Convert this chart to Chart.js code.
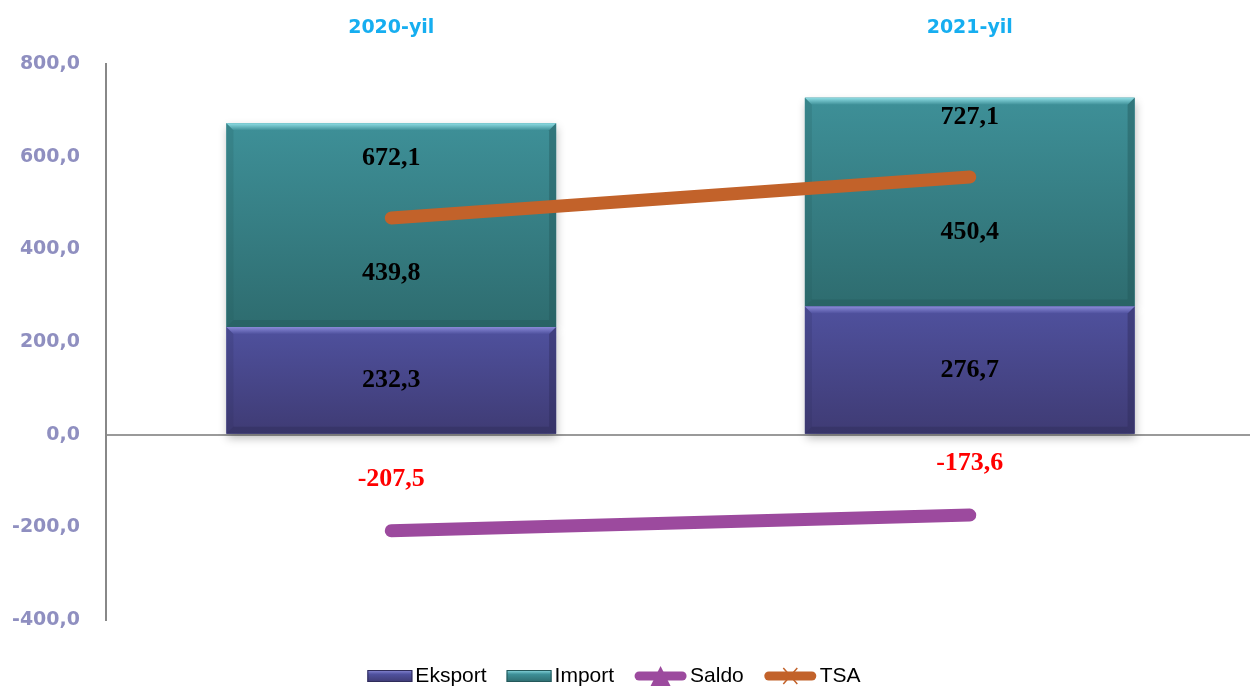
<!DOCTYPE html>
<html lang="uz">
<head>
    <meta charset="UTF-8">
    <title>Eksport, Import, Saldo, TSA</title>
    <style>
        body { margin: 0; background: #fff; }
        #wrap { width: 1250px; height: 686px; position: relative; }
    </style>
</head>
<body>
<div id="wrap"><canvas id="tradeChart"></canvas></div>

<script src="https://cdn.jsdelivr.net/npm/chart.js"></script>
<script>
    // Ma'lumotlar
    const categories = ['2020-yil', '2021-yil'];
    const eksport = [232.3, 276.7];
    const importQ = [439.8, 450.4];
    const saldo = [-207.5, -173.6];
    const tsa = [672.1, 727.1];
    const yTicks = [-400, -200, 0, 200, 400, 600, 800];

    const fmt = v => v.toFixed(1).replace('.', ',');

    const colors = {
        eksport: { top: '#8a8ad8', mid: '#4f519e', low: '#3f3b74', edge: '#2f2c5a' },
        import: { top: '#8fdde4', mid: '#3e9098', low: '#2e6c6f', edge: '#24585a' },
        saldo: '#9c4a9e',
        tsa: '#c2622a'
    };

    // x o'qi o'ng chetdan biroz chiqib turadi (asl rasmdagidek)
    const widenX = {
        id: 'widenX',
        afterLayout(chart) {
            const x = chart.scales.x;
            x.left -= 4;
            x.right += 9;
            x.width += 13;
            x.configure();
        }
    };

    // bar shadow + bevel look
    const barStyle = {
        id: 'barStyle',
        beforeDatasetsDraw(chart) {
            const c = chart.ctx;
            chart.data.datasets.forEach((ds, i) => {
                const meta = chart.getDatasetMeta(i);
                if (meta.type !== 'bar') return;
                meta.data.forEach(el => {
                    const top = Math.min(el.y, el.base), h = Math.abs(el.base - el.y);
                    c.save();
                    c.shadowColor = 'rgba(0,0,0,0.28)';
                    c.shadowBlur = 9;
                    c.shadowOffsetX = 1;
                    c.shadowOffsetY = 4;
                    c.fillStyle = '#fff';
                    c.fillRect(el.x - el.width / 2, top, el.width, h);
                    c.restore();
                });
            });
        },
        afterDatasetDraw(chart, args) {
            const meta = args.meta;
            if (meta.type !== 'bar') return;
            const pal = meta.index === 2 ? colors.eksport : colors.import;
            const c = chart.ctx;
            meta.data.forEach(el => {
                const left = el.x - el.width / 2, w = el.width;
                const top = Math.min(el.y, el.base), h = Math.abs(el.base - el.y);
                c.save();
                const g = c.createLinearGradient(0, top, 0, top + h);
                g.addColorStop(0, pal.mid);
                g.addColorStop(1, pal.low);
                c.fillStyle = g;
                c.fillRect(left, top, w, h);
                // top bevel
                const b = 7;
                const gt = c.createLinearGradient(0, top, 0, top + b);
                gt.addColorStop(0, pal.top);
                gt.addColorStop(1, pal.mid);
                c.fillStyle = gt;
                c.beginPath();
                c.moveTo(left, top); c.lineTo(left + w, top);
                c.lineTo(left + w - b, top + b); c.lineTo(left + b, top + b);
                c.closePath(); c.fill();
                // side and bottom edges
                c.globalAlpha = 0.45;
                c.fillStyle = pal.edge;
                c.beginPath();
                c.moveTo(left + w, top); c.lineTo(left + w, top + h);
                c.lineTo(left + w - b, top + h - b); c.lineTo(left + w - b, top + b);
                c.closePath(); c.fill();
                c.beginPath();
                c.moveTo(left, top + h); c.lineTo(left + w, top + h);
                c.lineTo(left + w - b, top + h - b); c.lineTo(left + b, top + h - b);
                c.closePath(); c.fill();
                c.globalAlpha = 0.2;
                c.beginPath();
                c.moveTo(left, top); c.lineTo(left + b, top + b);
                c.lineTo(left + b, top + h - b); c.lineTo(left, top + h);
                c.closePath(); c.fill();
                c.restore();
            });
        }
    };

    // qiymat yorliqlari
    const valueLabels = {
        id: 'valueLabels',
        afterDatasetsDraw(chart) {
            const c = chart.ctx;
            const tsaMeta = chart.getDatasetMeta(0);
            const saldoMeta = chart.getDatasetMeta(1);
            const eksMeta = chart.getDatasetMeta(2);
            c.save();
            c.font = 'bold 26px "Liberation Serif", "Times New Roman", serif';
            c.textAlign = 'center';
            c.textBaseline = 'middle';
            categories.forEach((cat, i) => {
                const tp = tsaMeta.data[i];
                const ep = eksMeta.data[i];
                c.fillStyle = '#000';
                c.fillText(fmt(eksport[i]), ep.x, (ep.y + ep.base) / 2);
                c.fillText(fmt(importQ[i]), tp.x, tp.y + 55);
                c.fillText(fmt(tsa[i]), tp.x, tp.y - 60);
                const sp = saldoMeta.data[i];
                c.fillStyle = '#ff0000';
                c.fillText(fmt(saldo[i]), sp.x, sp.y - 52);
            });
            c.restore();
        }
    };

    // legenda pastda
    const bottomLegend = {
        id: 'bottomLegend',
        afterDraw(chart) {
            const c = chart.ctx;
            const items = [
                { text: 'Eksport', kind: 'bar', pal: colors.eksport },
                { text: 'Import', kind: 'bar', pal: colors.import },
                { text: 'Saldo', kind: 'line', color: colors.saldo, mark: 'tri' },
                { text: 'TSA', kind: 'line', color: colors.tsa, mark: 'x' }
            ];
            c.save();
            c.font = '21px "Liberation Sans", Arial, sans-serif';
            c.textBaseline = 'middle';
            const gap = 20, symGap = 3;
            let total = 0;
            items.forEach(it => {
                it.sw = it.kind === 'bar' ? 45 : 53;
                it.tw = c.measureText(it.text).width;
                total += it.sw + symGap + it.tw;
            });
            total += gap * (items.length - 1);
            let x = 614 - total / 2;
            const y = 676;
            items.forEach(it => {
                if (it.kind === 'bar') {
                    const g = c.createLinearGradient(0, y - 6, 0, y + 6);
                    g.addColorStop(0, it.pal.top);
                    g.addColorStop(0.35, it.pal.mid);
                    g.addColorStop(1, it.pal.low);
                    c.fillStyle = g;
                    c.fillRect(x, y - 6, it.sw, 12);
                    c.strokeStyle = it.pal.edge;
                    c.lineWidth = 1;
                    c.strokeRect(x + 0.5, y - 5.5, it.sw - 1, 11);
                } else {
                    c.strokeStyle = it.color;
                    c.lineWidth = 9;
                    c.lineCap = 'round';
                    c.beginPath();
                    c.moveTo(x + 5, y); c.lineTo(x + it.sw - 5, y);
                    c.stroke();
                    const mx = x + it.sw / 2;
                    if (it.mark === 'tri') {
                        c.fillStyle = it.color;
                        c.beginPath();
                        c.moveTo(mx, y - 10); c.lineTo(mx + 10, y + 10); c.lineTo(mx - 10, y + 10);
                        c.closePath(); c.fill();
                    } else {
                        c.lineWidth = 1.5;
                        c.lineCap = 'butt';
                        c.beginPath();
                        c.moveTo(mx - 7, y - 8); c.lineTo(mx + 7, y + 8);
                        c.moveTo(mx + 7, y - 8); c.lineTo(mx - 7, y + 8);
                        c.stroke();
                    }
                }
                x += it.sw + symGap;
                c.fillStyle = '#000';
                c.textAlign = 'left';
                c.fillText(it.text, x, y);
                x += it.tw + gap;
            });
            c.restore();
        }
    };

    const ctx = document.getElementById('tradeChart').getContext('2d');
    const tradeChart = new Chart(ctx, {
        type: 'bar',
        data: {
            labels: categories,
            datasets: [
                {
                    type: 'line',
                    label: 'TSA',
                    data: tsa,
                    yAxisID: 'y2',
                    borderColor: colors.tsa,
                    backgroundColor: colors.tsa,
                    borderWidth: 13,
                    borderCapStyle: 'round',
                    pointRadius: 0,
                    order: 0
                },
                {
                    type: 'line',
                    label: 'Saldo',
                    data: saldo,
                    stack: 'saldo',
                    borderColor: colors.saldo,
                    backgroundColor: colors.saldo,
                    borderWidth: 13,
                    borderCapStyle: 'round',
                    pointRadius: 0,
                    order: 0
                },
                {
                    label: 'Eksport',
                    data: eksport,
                    stack: 'savdo',
                    backgroundColor: colors.eksport.mid,
                    categoryPercentage: 1,
                    barPercentage: 0.57,
                    order: 1
                },
                {
                    label: 'Import',
                    data: importQ,
                    stack: 'savdo',
                    backgroundColor: colors.import.mid,
                    categoryPercentage: 1,
                    barPercentage: 0.57,
                    order: 1
                }
            ]
        },
        options: {
            responsive: true,
            maintainAspectRatio: false,
            animation: false,
            layout: { padding: { left: 0, right: 0, top: 0, bottom: 66 } },
            plugins: {
                legend: { display: false },
                tooltip: { enabled: false }
            },
            scales: {
                x: {
                    position: 'top',
                    stacked: true,
                    grid: { display: false, drawTicks: false },
                    border: { display: false },
                    ticks: {
                        color: '#16aef0',
                        padding: 25,
                        font: { family: '"DejaVu Sans", Verdana, sans-serif', size: 19, weight: 'bold' }
                    },
                    afterFit: s => { s.height = 64; }
                },
                y: {
                    stacked: true,
                    min: -400,
                    max: 800,
                    afterBuildTicks: s => { s.ticks = yTicks.map(v => ({ value: v })); },
                    ticks: {
                        color: '#8f8fc0',
                        padding: 26,
                        font: { family: '"DejaVu Sans", Verdana, sans-serif', size: 19, weight: 'bold' },
                        callback: v => fmt(v)
                    },
                    grid: {
                        drawTicks: false,
                        lineWidth: 2,
                        color: c => (c.tick && c.tick.value === 0) ? '#9a9a9a' : 'rgba(0,0,0,0)'
                    },
                    border: { display: true, color: '#888888', width: 2 },
                    afterFit: s => { s.width = 106; }
                },
                y2: {
                    display: false,
                    min: 131.5,
                    max: 879
                }
            }
        },
        plugins: [widenX, barStyle, valueLabels, bottomLegend]
    });
</script>
</body>
</html>
